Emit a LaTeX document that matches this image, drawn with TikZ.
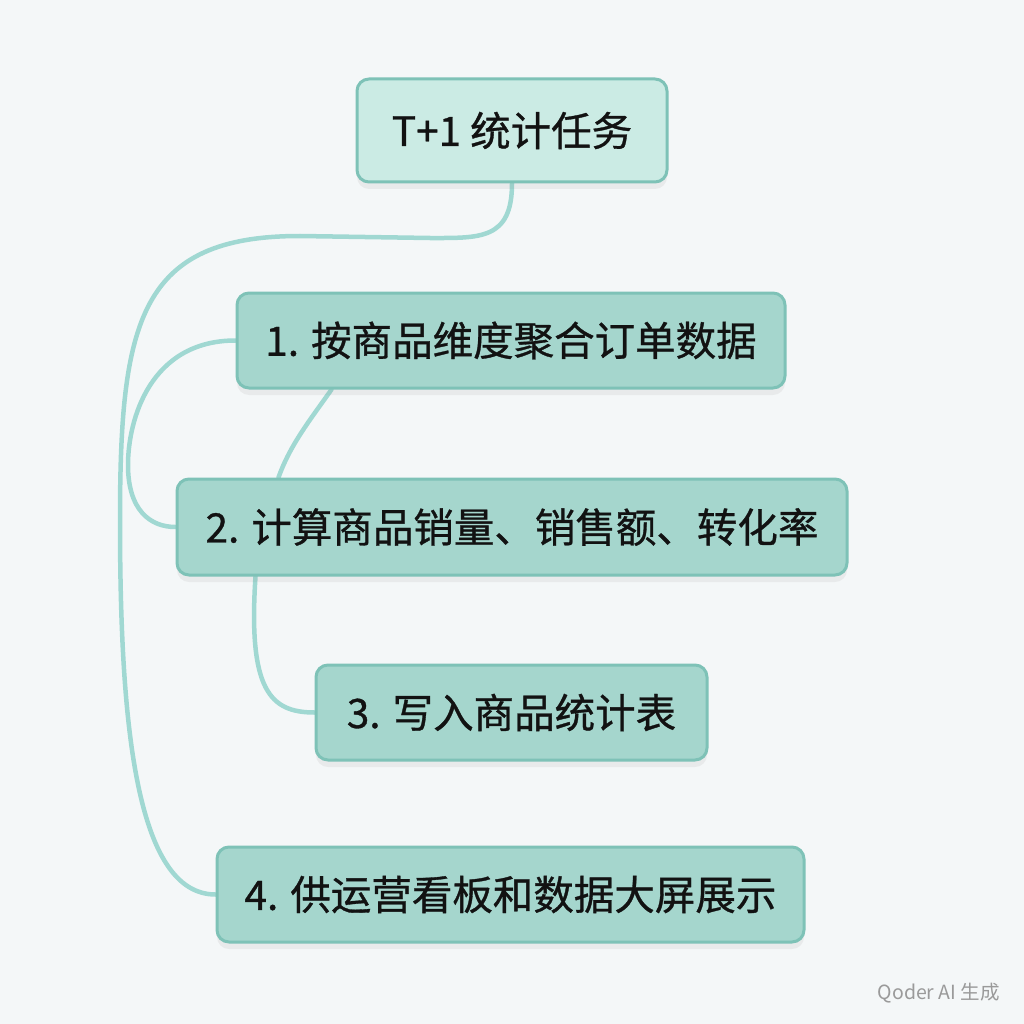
\documentclass[tikz,border=0pt]{standalone}
\usepackage{fontspec}
\setmainfont{Noto Sans CJK SC}
\newfontfamily\boxfont{Noto Sans CJK SC}[FakeBold=0.8]
\usetikzlibrary{shadows,backgrounds}
\definecolor{bgc}{HTML}{F4F7F8}
\definecolor{boxfill}{HTML}{A5D6CD}
\definecolor{rootfill}{HTML}{CBEBE4}
\definecolor{boxline}{HTML}{7EC2B7}
\definecolor{linkc}{HTML}{A0D8D2}
\definecolor{markc}{HTML}{9A9A9A}
\tikzset{
  basebox/.style={draw=boxline, line width=3pt, rounded corners=12pt, inner sep=0pt,
    font=\boxfont\fontsize{40.5}{48}\selectfont, text=black!93,
    drop shadow={opacity=0.10, shadow xshift=0pt, shadow yshift=-7pt}},
  stepbox/.style={basebox, fill=boxfill},
  rootbox/.style={basebox, fill=rootfill},
  link/.style={draw=linkc, line width=4.5pt, line cap=round}
}
\begin{document}
\begin{tikzpicture}[x=1pt,y=-1pt]
\useasboundingbox (0,0) rectangle (1024,1024);
\node[rootbox, minimum width=310pt, minimum height=103pt] (root) at (512,130.5) {T+1 统计任务};
\node[stepbox, minimum width=548pt, minimum height=95pt] (s1) at (511,340.5) {1. 按商品维度聚合订单数据};
\node[stepbox, minimum width=670pt, minimum height=96pt] (s2) at (512,527) {2. 计算商品销量、销售额、转化率};
\node[stepbox, minimum width=391pt, minimum height=95pt] (s3) at (511.5,712.5) {3. 写入商品统计表};
\node[stepbox, minimum width=587pt, minimum height=95pt] (s4) at (510.5,894.5) {4. 供运营看板和数据大屏展示};
\node[anchor=east, text=markc, font=\fontsize{19.5}{22}\selectfont, inner sep=0pt] (mark) at (1000,993) {Qoder AI 生成};
\begin{scope}[on background layer]
\fill[bgc] (0,0) rectangle (1024,1024);
\draw[link] (root.south) .. controls (512,240) and (480,238) .. (430,238) -- (300,236)
  .. controls (140,236) and (120,320) .. (120,520)
  .. controls (120,720) and (135,894.5) .. (s4.west);
\draw[link] (s1.west) .. controls (150,340.5) and (128,420) .. (128,465)
  .. controls (128,510) and (150,527) .. (s2.west);
\draw[link] ([xshift=96pt]s1.south west) .. controls (310,420) and (290,445) .. ([xshift=103pt]s2.north west);
\draw[link] ([xshift=80pt]s2.south west) .. controls (248,690) and (270,712.5) .. (s3.west);
\end{scope}
\end{tikzpicture}
\end{document}
